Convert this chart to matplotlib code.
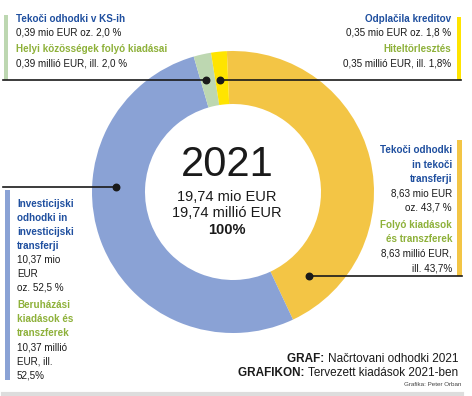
import matplotlib.pyplot as plt
from matplotlib.patches import Rectangle

plt.rcParams['font.family'] = ['Liberation Sans', 'DejaVu Sans']

# data (order: clockwise from the top)
shares = [43.7, 52.5, 2.0, 1.8]
colors = ['#f3c545', '#8aa2d5', '#bdd7b1', '#ffe400']
total_sl = '19,74 mio EUR'
total_hu = '19,74 millió EUR'
year = '2021'

W, H = 472, 396
BLUE = '#1f4f9f'
GREEN = '#8eb13a'
DARK = '#1a1a1a'

fig = plt.figure(figsize=(W / 100, H / 100), dpi=100)
ax = fig.add_axes([0, 0, 1, 1])


def Y(y):
    return H - y


cx, cy, R, r = 233, 192, 141, 88
ax.pie(shares, colors=colors, startangle=92.5, counterclock=False,
       center=(cx, Y(cy)), radius=R, frame=True,
       wedgeprops=dict(width=R - r, linewidth=0))
ax.set_xlim(0, W)
ax.set_ylim(0, H)
ax.set_aspect('equal')
ax.axis('off')

# centre text
ax.text(cx - 6, Y(165), year, fontsize=30, ha='center', va='center', color=DARK)
ax.text(cx - 6, Y(197), total_sl, fontsize=10.5, ha='center', va='center', color=DARK)
ax.text(cx - 6, Y(213), total_hu, fontsize=10.5, ha='center', va='center', color=DARK)
ax.text(cx - 6, Y(230), '100%', fontsize=10.5, ha='center', va='center',
        color=DARK, fontweight='bold')

fs = 7.1


def block(x, y0, lines, ha, step=14):
    y = y0
    for txt, col, bold, gap in lines:
        y += gap
        ax.text(x, Y(y), txt, fontsize=fs, ha=ha, va='center', color=col,
                fontweight='bold' if bold else 'normal')
        y += step


# bars
ax.add_patch(Rectangle((4, Y(80)), 3.5, 65, color='#bdd7b1', lw=0))
ax.add_patch(Rectangle((457, Y(80)), 4, 63, color='#ffe400', lw=0))
ax.add_patch(Rectangle((5, Y(380)), 4.5, 190, color='#8aa2d5', lw=0))
ax.add_patch(Rectangle((457, Y(276)), 5, 136, color='#f3c545', lw=0))

# leader lines
ax.plot([3, 206], [Y(80), Y(80)], color=DARK, lw=1.2)
ax.plot([220, 461], [Y(80), Y(80)], color=DARK, lw=1.2)
ax.plot([3, 116], [Y(187), Y(187)], color=DARK, lw=1.2)
ax.plot([309, 462], [Y(276), Y(276)], color=DARK, lw=1.2)
ax.scatter([206, 220, 116, 309], [Y(80), Y(80), Y(187), Y(276)], s=22,
           color=DARK, zorder=5)

# top left
block(16, 19, [("Tekoči odhodki v KS-ih", BLUE, True, 0),
               ("0,39 mio EUR oz. 2,0 %", DARK, False, 0),
               ("Helyi közösségek folyó kiadásai", GREEN, True, 3),
               ("0,39 millió EUR, ill. 2,0 %", DARK, False, 0)], 'left', step=13.7)

# top right
block(451, 19, [("Odplačila kreditov", BLUE, True, 0),
                ("0,35 mio EUR oz. 1,8 %", DARK, False, 0),
                ("Hiteltörlesztés", GREEN, True, 3),
                ("0,35 millió EUR, ill. 1,8%", DARK, False, 0)], 'right', step=13.7)

# right middle
block(452, 150, [("Tekoči odhodki", BLUE, True, 0),
                 ("in tekoči", BLUE, True, 0),
                 ("transferji", BLUE, True, 0),
                 ("8,63 mio EUR", DARK, False, 0),
                 ("oz. 43,7 %", DARK, False, 0),
                 ("Folyó kiadások", GREEN, True, 2.5),
                 ("és transzferek", GREEN, True, 0),
                 ("8,63 millió EUR,", DARK, False, 0),
                 ("ill. 43,7%", DARK, False, 0)], 'right', step=14.5)

# left middle
block(17, 204, [("Investicijski", BLUE, True, 0),
                ("odhodki in", BLUE, True, 0),
                ("investicijski", BLUE, True, 0),
                ("transferji", BLUE, True, 0),
                ("10,37 mio", DARK, False, 0),
                ("EUR", DARK, False, 0),
                ("oz. 52,5 %", DARK, False, 0),
                ("Beruházási", GREEN, True, 3),
                ("kiadások és", GREEN, True, 0),
                ("transzferek", GREEN, True, 0),
                ("10,37 millió", DARK, False, 0),
                ("EUR, ill.", DARK, False, 0),
                ("52,5%", DARK, False, 0)], 'left', step=14)

# bottom titles
t1 = ax.text(458, Y(359), "Načrtovani odhodki 2021", fontsize=8.5, ha='right',
             va='center', color=DARK)
ax.annotate("GRAF: ", xy=(0, 0.5), xycoords=t1, ha='right', va='center',
            fontsize=8.5, fontweight='bold', color=DARK)
t2 = ax.text(458, Y(373), "Tervezett kiadások 2021-ben", fontsize=8.5, ha='right',
             va='center', color=DARK)
ax.annotate("GRAFIKON: ", xy=(0, 0.5), xycoords=t2, ha='right', va='center',
            fontsize=8.5, fontweight='bold', color=DARK)
ax.text(461, Y(384), "Grafika: Peter Orban", fontsize=4.5, ha='right',
        va='center', color='#444444')
ax.plot([3, 462], [Y(394), Y(394)], color='#dddddd', lw=3)

fig.savefig('out.png', dpi=100)
